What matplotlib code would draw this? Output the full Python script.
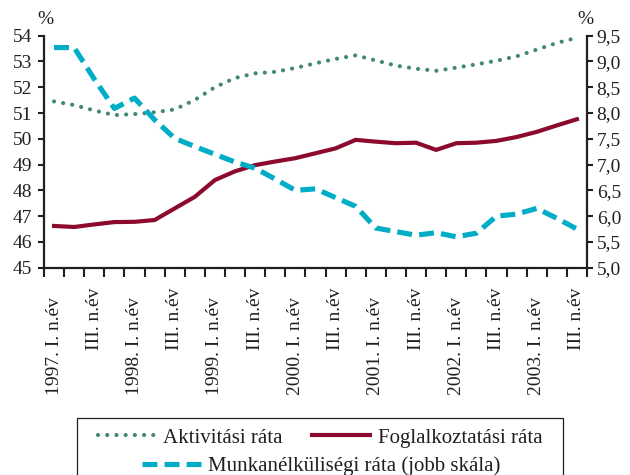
import numpy as np
import matplotlib
matplotlib.use("Agg")
import matplotlib.pyplot as plt
import matplotlib.transforms as mtransforms
from matplotlib.patches import Rectangle

# quarterly data, 1997 Q1 - 2003 Q3
labels = ["1997. I. n.év", "III. n.év", "1998. I. n.év", "III. n.év",
          "1999. I. n.év", "III. n.év", "2000. I. n.év", "III. n.év",
          "2001. I. n.év", "III. n.év", "2002. I. n.év", "III. n.év",
          "2003. I. n.év", "III. n.év"]

aktivitasi = [51.45, 51.31, 51.10, 50.92, 50.96, 51.03, 51.14, 51.51, 52.00,
              52.36, 52.54, 52.60, 52.75, 52.93, 53.10, 53.24, 53.04, 52.84,
              52.72, 52.64, 52.76, 52.89, 53.03, 53.20, 53.46, 53.72, 53.92]

foglalkoztatasi = [46.62, 46.58, 46.68, 46.77, 46.78, 46.85, 47.30, 47.75, 48.40,
                   48.74, 48.98, 49.12, 49.25, 49.44, 49.63, 49.96, 49.89, 49.83,
                   49.85, 49.57, 49.83, 49.85, 49.92, 50.07, 50.27, 50.52, 50.76]

munkanelkuli = [9.27, 9.27, 8.66, 8.09, 8.29, 7.87, 7.51, 7.35, 7.20,
                7.05, 6.93, 6.72, 6.50, 6.53, 6.36, 6.19, 5.77, 5.70,
                5.63, 5.68, 5.60, 5.67, 6.00, 6.04, 6.15, 5.96, 5.75]

plt.rcParams['font.family'] = ['Liberation Serif', 'DejaVu Serif']
FS = 14
INK = "#231f20"

x = np.arange(len(aktivitasi))

fig = plt.figure(figsize=(6.3, 4.75), dpi=100)
ax = fig.add_axes([0.0698, 0.4364, 0.8619, 0.4884])
ax2 = ax.twinx()

l1, = ax.plot(x, aktivitasi, color="#428a69", lw=3.0, linestyle=(0, (0.01, 2.2)),
              dash_capstyle="round", label="Aktivitási ráta")
l2, = ax.plot(x, foglalkoztatasi, color="#8c0a2e", lw=3.0, solid_joinstyle="miter",
              label="Foglalkoztatási ráta")
l3, = ax2.plot(x, munkanelkuli, color="#00adc6", lw=3.7, linestyle=(0, (2.9, 1.4)),
               dash_capstyle="butt", label="Munkanélküliségi ráta (jobb skála)")

ax.set_xlim(-0.5, len(x) - 0.5)
ax.set_ylim(45, 54)
ax2.set_ylim(5, 9.5)
ax.set_yticks(np.arange(45, 55, 1))
ax2.set_yticks(np.arange(5, 9.75, 0.5))
ax2.set_yticklabels([f"{v:.1f}".replace(".", ",") for v in np.arange(5, 9.75, 0.5)])

# tick marks between quarters, labels drawn separately
ax.set_xticks(np.arange(-0.5, len(x), 1))
ax.set_xticklabels([])
ax.tick_params(axis="x", direction="out", length=6.5, width=1.5, color=INK)
ax.tick_params(axis="y", direction="out", length=4.5, width=1.5, pad=4,
               labelsize=FS, color=INK, labelcolor=INK)
ax2.tick_params(axis="y", direction="out", length=4.5, width=1.5, pad=2.5,
                labelsize=FS, color=INK, labelcolor=INK)

for a in (ax, ax2):
    a.spines["top"].set_visible(False)
    for s in ("left", "right", "bottom"):
        a.spines[s].set_linewidth(1.6)
        a.spines[s].set_color(INK)
ax.spines["right"].set_visible(False)
ax2.spines["left"].set_visible(False)
ax2.spines["bottom"].set_visible(False)

for k, lab in enumerate(labels):
    off = -21 if lab[0].isdigit() else -14
    tr = mtransforms.offset_copy(ax.get_xaxis_transform(), fig=fig, y=off, units="points")
    ax.text(2 * k, 0, lab, rotation=90, ha="center", va="top", fontsize=FS,
            color=INK, transform=tr)

ax.annotate("%", xy=(0, 1), xycoords="axes fraction", xytext=(1, 12),
            textcoords="offset points", ha="center", va="center", fontsize=FS,
            color=INK)
ax.annotate("%", xy=(1, 1), xycoords="axes fraction", xytext=(-1, 12),
            textcoords="offset points", ha="center", va="center", fontsize=FS,
            color=INK)

# legend: two rows inside one box
leg1 = fig.legend(handles=[l1, l2], ncol=2, loc="center", bbox_to_anchor=(0.508, 0.078),
                  frameon=False, fontsize=15, handlelength=2.8, handletextpad=0.35,
                  columnspacing=1.4, borderpad=0)
leg2 = fig.legend(handles=[l3], loc="center", bbox_to_anchor=(0.51, 0.019),
                  frameon=False, fontsize=15, handlelength=2.8, handletextpad=0.35,
                  borderpad=0)
for leg in (leg1, leg2):
    for t in leg.get_texts():
        t.set_color(INK)
fig.add_artist(Rectangle((0.122, -0.05), 0.771, 0.17, transform=fig.transFigure,
                         fill=False, edgecolor=INK, lw=0.9))

fig.savefig("out.png", dpi=100)
